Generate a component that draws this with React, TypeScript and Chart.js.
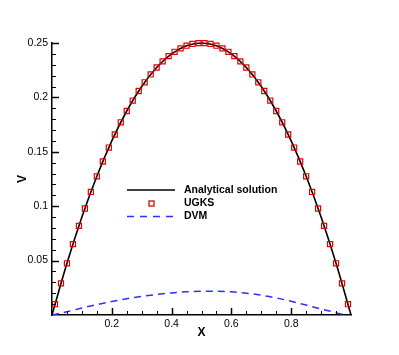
import React, { useEffect, useRef } from 'react';
import { Chart, registerables } from 'chart.js';

Chart.register(...registerables);

// ---- Data ----
const ugksX = [
  0.01, 0.03, 0.05, 0.07, 0.09, 0.11, 0.13, 0.15, 0.17, 0.19,
  0.21, 0.23, 0.25, 0.27, 0.29, 0.31, 0.33, 0.35, 0.37, 0.39,
  0.41, 0.43, 0.45, 0.47, 0.49, 0.51, 0.53, 0.55, 0.57, 0.59,
  0.61, 0.63, 0.65, 0.67, 0.69, 0.71, 0.73, 0.75, 0.77, 0.79,
  0.81, 0.83, 0.85, 0.87, 0.89, 0.91, 0.93, 0.95, 0.97, 0.99,
];
const ugksV = [
  0.0099, 0.0291, 0.0475, 0.0651, 0.0819, 0.0979, 0.1131, 0.1275, 0.1411, 0.1539,
  0.1659, 0.1771, 0.1875, 0.1971, 0.2059, 0.2139, 0.2211, 0.2275, 0.2331, 0.2379,
  0.2419, 0.2451, 0.2475, 0.2491, 0.2499, 0.2499, 0.2491, 0.2475, 0.2451, 0.2419,
  0.2379, 0.2331, 0.2275, 0.2211, 0.2139, 0.2059, 0.1971, 0.1875, 0.1771, 0.1659,
  0.1539, 0.1411, 0.1275, 0.1131, 0.0979, 0.0819, 0.0651, 0.0475, 0.0291, 0.0099,
];
const analyticX = [
  0, 0.05, 0.1, 0.15, 0.2, 0.25, 0.3, 0.35, 0.4, 0.45, 0.5,
  0.55, 0.6, 0.65, 0.7, 0.75, 0.8, 0.85, 0.9, 0.95, 1,
];
const analyticV = [
  0, 0.0475, 0.09, 0.1275, 0.16, 0.1875, 0.21, 0.2275, 0.24, 0.2475, 0.25,
  0.2475, 0.24, 0.2275, 0.21, 0.1875, 0.16, 0.1275, 0.09, 0.0475, 0,
];
const dvmX = [
  0, 0.05, 0.1, 0.15, 0.2, 0.25, 0.3, 0.35, 0.4, 0.45, 0.5,
  0.55, 0.6, 0.65, 0.7, 0.75, 0.8, 0.85, 0.9, 0.95, 0.98,
];
const dvmV = [
  0, 0.003, 0.0064, 0.0095, 0.0124, 0.015, 0.0171, 0.0189, 0.0203, 0.0213, 0.0219,
  0.0219, 0.0213, 0.0201, 0.0182, 0.0157, 0.0126, 0.0091, 0.0055, 0.0022, 0,
];
const xTickLabels = [0.2, 0.4, 0.6, 0.8];
const yTickLabels = [0.05, 0.1, 0.15, 0.2, 0.25];
const seriesNames = ['Analytical solution', 'UGKS', 'DVM'];

const FONT = '"Liberation Sans", Arial, Helvetica, sans-serif';
const BLUE = '#2f2fff';
const RED = '#e00000';

const toPoints = (xs: number[], ys: number[]) => xs.map((x, i) => ({ x, y: ys[i] }));

const ticksPlugin = {
  id: 'innerTicks',
  afterDraw(chart: any) {
    const { ctx, chartArea, scales } = chart;
    const xs = scales.x;
    const ys = scales.y;
    ctx.save();
    ctx.strokeStyle = '#000';
    ctx.lineWidth = 1;
    // x ticks (major every 0.2, minor every 0.05)
    for (let i = 1; i < 20; i++) {
      const v = i * 0.05;
      const px = Math.round(xs.getPixelForValue(v)) + 0.5;
      const major = i % 4 === 0;
      ctx.lineWidth = major ? 1.5 : 1;
      ctx.beginPath();
      ctx.moveTo(px, chartArea.bottom);
      ctx.lineTo(px, chartArea.bottom - (major ? 7 : 4));
      ctx.stroke();
    }
    // y ticks (major every 0.05, minor every 0.01)
    for (let i = 1; i <= 25; i++) {
      const v = i * 0.01;
      const py = Math.round(ys.getPixelForValue(v)) + 0.5;
      const major = i % 5 === 0;
      ctx.lineWidth = major ? 1.5 : 1;
      ctx.beginPath();
      ctx.moveTo(chartArea.left, py);
      ctx.lineTo(chartArea.left + (major ? 7 : 4), py);
      ctx.stroke();
    }
    ctx.restore();
  },
};

const legendPlugin = {
  id: 'customLegend',
  afterDraw(chart: any) {
    const { ctx } = chart;
    const x0 = 127;
    const x1 = 175;
    const tx = 184;
    const rows = [190, 203.5, 216.5];
    ctx.save();
    ctx.font = `bold 10.5px ${FONT}`;
    ctx.fillStyle = '#000';
    ctx.textBaseline = 'middle';
    ctx.textAlign = 'left';
    // Analytical
    ctx.strokeStyle = '#000';
    ctx.lineWidth = 1.5;
    ctx.beginPath();
    ctx.moveTo(x0, rows[0]);
    ctx.lineTo(x1, rows[0]);
    ctx.stroke();
    ctx.fillText(seriesNames[0], tx, rows[0]);
    // UGKS
    ctx.strokeStyle = RED;
    ctx.lineWidth = 1.3;
    ctx.strokeRect(151.5 - 2.5, rows[1] - 2.5, 5, 5);
    ctx.fillText(seriesNames[1], tx, rows[1]);
    // DVM
    ctx.strokeStyle = BLUE;
    ctx.lineWidth = 1.5;
    ctx.setLineDash([7, 6]);
    ctx.beginPath();
    ctx.moveTo(x0, rows[2]);
    ctx.lineTo(x1, rows[2]);
    ctx.stroke();
    ctx.setLineDash([]);
    ctx.fillText(seriesNames[2], tx, rows[2]);
    ctx.restore();
  },
};

export default function App() {
  const ref = useRef<HTMLCanvasElement | null>(null);

  useEffect(() => {
    if (!ref.current) return;
    const chart = new Chart(ref.current, {
      type: 'scatter',
      data: {
        datasets: [
          {
            label: seriesNames[0],
            data: toPoints(analyticX, analyticV),
            showLine: true,
            borderColor: '#000',
            borderWidth: 1.6,
            pointRadius: 0,
            cubicInterpolationMode: 'monotone',
            clip: false,
            order: 2,
          } as any,
          {
            label: seriesNames[1],
            data: toPoints(ugksX, ugksV),
            showLine: false,
            pointStyle: 'rect',
            pointRadius: 3.6,
            borderColor: RED,
            backgroundColor: 'rgba(0,0,0,0)',
            borderWidth: 1.2,
            clip: false,
            order: 1,
          } as any,
          {
            label: seriesNames[2],
            data: toPoints(dvmX, dvmV),
            showLine: true,
            borderColor: BLUE,
            borderWidth: 1.5,
            borderDash: [7, 5],
            pointRadius: 0,
            cubicInterpolationMode: 'monotone',
            clip: false,
            order: 3,
          } as any,
        ],
      },
      options: {
        responsive: false,
        animation: false,
        events: [],
        layout: { padding: { top: 43, left: 10, right: 48, bottom: 10 } },
        plugins: {
          legend: { display: false },
          tooltip: { enabled: false },
        },
        scales: {
          x: {
            type: 'linear',
            min: 0,
            max: 1,
            grid: { display: true, drawOnChartArea: false, drawTicks: false },
            border: { display: true, color: '#000', width: 1.5 },
            ticks: {
              stepSize: 0.2,
              padding: 3,
              color: '#000',
              font: { family: FONT, size: 10.5 },
              callback: (v: any) => {
                const n = Number(v);
                return xTickLabels.some((t) => Math.abs(t - n) < 1e-9) ? String(+n.toFixed(2)) : '';
              },
            },
            title: {
              display: true,
              text: 'X',
              color: '#000',
              font: { family: FONT, size: 12, weight: 'bold' },
              padding: { top: 0, bottom: 5 },
            },
            afterFit: (s: any) => {
              s.height = 30;
            },
          },
          y: {
            type: 'linear',
            min: 0,
            max: 0.25,
            grid: { display: true, drawOnChartArea: false, drawTicks: false },
            border: { display: true, color: '#000', width: 1.5 },
            ticks: {
              stepSize: 0.05,
              padding: 4,
              color: '#000',
              font: { family: FONT, size: 10.5 },
              callback: (v: any) => {
                const n = Number(v);
                return yTickLabels.some((t) => Math.abs(t - n) < 1e-9) ? String(+n.toFixed(2)) : '';
              },
            },
            title: {
              display: true,
              text: 'V',
              color: '#000',
              font: { family: FONT, size: 12, weight: 'bold' },
              padding: { top: 5, bottom: 0 },
            },
            afterFit: (s: any) => {
              s.width = 42;
            },
          },
        },
      } as any,
      plugins: [ticksPlugin, legendPlugin],
    });
    return () => chart.destroy();
  }, []);

  return (
    <div style={{ position: 'absolute', left: 0, top: 0, width: 399, height: 355, background: '#fff' }}>
      <canvas ref={ref} width={399} height={355} style={{ width: 399, height: 355, display: 'block' }} />
    </div>
  );
}
